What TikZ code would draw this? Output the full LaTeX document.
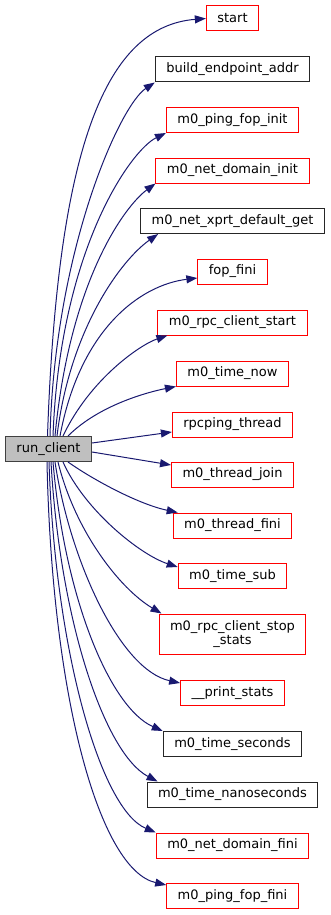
\documentclass[tikz,border=0pt]{standalone}
\usepackage{fontspec}
\setmainfont{DejaVu Sans}
\usetikzlibrary{arrows.meta}

\definecolor{edgeblue}{HTML}{191970}
\definecolor{boxgrey}{HTML}{BFBFBF}

\tikzset{
 fn/.style={draw=red, line width=1pt, minimum height=25pt, inner xsep=11pt, inner ysep=0pt,
   font=\fontsize{13}{14}\selectfont, align=center},
 fnblack/.style={fn, draw=black!85},
 call/.style={edgeblue, line width=1pt, -{Triangle[length=11pt,width=8pt]}},
}

\begin{document}
\begin{tikzpicture}[x=1pt,y=-1pt]
\useasboundingbox (0,0) rectangle (331,915);
\node[fn, draw=black!75, fill=boxgrey] (rc) at (48.5,449) {run\_client};
\node[fn] (st) at (232.5,18.5) {start};
\node[fnblack] (bea) at (232.5,69.5) {build\_endpoint\_addr};
\node[fn] (pfi) at (232.5,120) {m0\_ping\_fop\_init};
\node[fn] (ndi) at (232.5,170.5) {m0\_net\_domain\_init};
\node[fnblack] (nxd) at (232.5,221) {m0\_net\_xprt\_default\_get};
\node[fn] (ff) at (232.5,271.5) {fop\_fini};
\node[fn] (rcs) at (232.5,322.5) {m0\_rpc\_client\_start};
\node[fn] (tnow) at (232.5,373.5) {m0\_time\_now};
\node[fn] (rpt) at (232.5,424.5) {rpcping\_thread};
\node[fn] (tj) at (232.5,474.5) {m0\_thread\_join};
\node[fn] (tf) at (232.5,525.5) {m0\_thread\_fini};
\node[fn] (tsub) at (232.5,576) {m0\_time\_sub};
\node[fn, minimum height=40pt] (rss) at (232.5,634) {m0\_rpc\_client\_stop\\\_stats};
\node[fn] (ps) at (232.5,693) {\_\_print\_stats};
\node[fnblack] (tsec) at (232.5,744) {m0\_time\_seconds};
\node[fnblack] (tns) at (232.5,794.5) {m0\_time\_nanoseconds};
\node[fn] (ndf) at (232.5,845.5) {m0\_net\_domain\_fini};
\node[fn] (pff) at (232.5,896) {m0\_ping\_fop\_fini};
% calls going up
\draw[call] ([xshift=-1]rc.north) .. controls +(10,-290) and +(-100,8) .. (st.west);
\draw[call] ([xshift=1.5]rc.north) .. controls +(5,-187) and +(-35,23) .. (bea.south west);
\draw[call] ([xshift=4.5]rc.north) .. controls +(7,-187) and +(-35,17) .. (pfi.south west);
\draw[call] ([xshift=6.5]rc.north) .. controls +(15,-157) and +(-30,22) .. (ndi.south west);
\draw[call] ([xshift=8.5]rc.north) .. controls +(13,-107) and +(-37,26) .. ([xshift=18]nxd.south west);
\draw[call] ([xshift=11.5]rc.north) .. controls +(20,-107) and +(-57,7) .. ([yshift=-6.5]ff.west);
\draw[call] ([xshift=14.5]rc.north) .. controls +(27,-57) and +(-27,9) .. ([xshift=10]rcs.south west);
\draw[call] ([xshift=19.5]rc.north) .. controls +(32,-32) and +(-25,5) .. (tnow.south west);
% calls to the side
\draw[call] ([yshift=6]rc.east) -- ([yshift=-7.5]rpt.west);
\draw[call] ([yshift=-3]rc.east) -- ([yshift=9.5]tj.west);
% calls going down
\draw[call] ([xshift=19.5]rc.south) .. controls +(27,19) and +(-38,-8) .. ([xshift=5]tf.north west);
\draw[call] ([xshift=14.5]rc.south) .. controls +(22,49) and +(-37,-12) .. ([yshift=-4]tsub.north west);
\draw[call] ([xshift=9.5]rc.south) .. controls +(17,69) and +(-42,-25) .. ([xshift=3]rss.north west);
\draw[call] ([xshift=6.5]rc.south) .. controls +(15,99) and +(-60,-13) .. ([yshift=-3]ps.north west);
\draw[call] ([xshift=4.5]rc.south) .. controls +(12,139) and +(-52,-23) .. (tsec.north west);
\draw[call] ([xshift=2.5]rc.south) .. controls +(9,159) and +(-53,-28) .. ([xshift=11]tns.north west);
\draw[call] ([xshift=0.5]rc.south) .. controls +(6,189) and +(-55,-23) .. (ndf.north west);
\draw[call] ([xshift=-1.5]rc.south) .. controls +(5,239) and +(-66,-15) .. ([yshift=-2]pff.north west);
\end{tikzpicture}
\end{document}
